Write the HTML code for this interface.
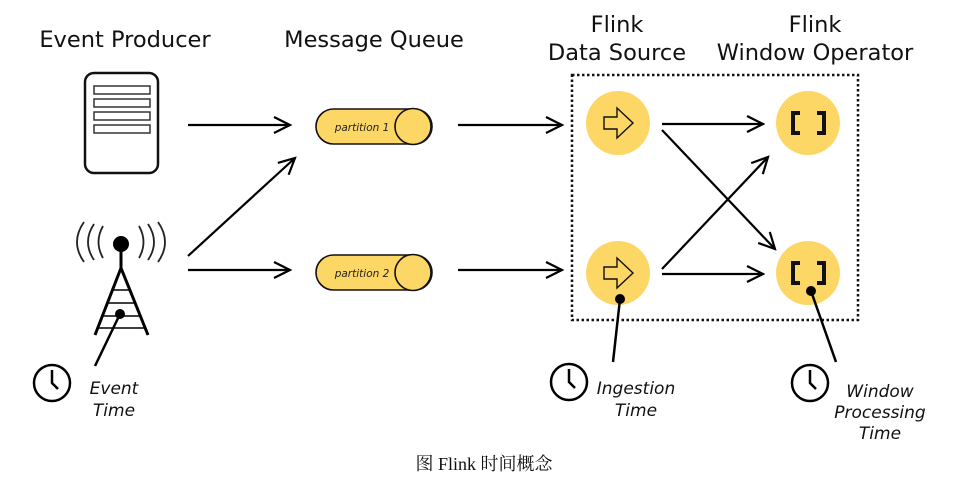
<!DOCTYPE html>
<html><head><meta charset="utf-8"><style>
body{margin:0;background:#fff;width:968px;height:489px;overflow:hidden}
svg{display:block}
.t{font-family:"DejaVu Sans","Liberation Sans",sans-serif;font-size:22.5px;fill:#111}
.i{font-family:"DejaVu Sans","Liberation Sans",sans-serif;font-size:17px;font-style:italic;fill:#111}
</style></head><body>
<svg width="968" height="489" viewBox="0 0 968 489">
<defs>
<marker id="a" viewBox="0 0 20 20" refX="18" refY="10" markerWidth="20" markerHeight="20" markerUnits="userSpaceOnUse" orient="auto">
<path d="M2 2 L18 10 L2 18" fill="none" stroke="#000" stroke-width="2.2"/>
</marker>
</defs>
<text class="t" x="125" y="47" text-anchor="middle">Event Producer</text>
<text class="t" x="374" y="47" text-anchor="middle">Message Queue</text>
<text class="t" x="617" y="32" text-anchor="middle">Flink</text>
<text class="t" x="617" y="60" text-anchor="middle">Data Source</text>
<text class="t" x="815" y="32" text-anchor="middle">Flink</text>
<text class="t" x="815" y="60" text-anchor="middle">Window Operator</text>

<rect x="85" y="73" width="73" height="100" rx="9" fill="#fff" stroke="#111" stroke-width="2.5"/>
<g fill="#fff" stroke="#333" stroke-width="1.5">
<rect x="94" y="86" width="56" height="8"/><rect x="94" y="99" width="56" height="8"/>
<rect x="94" y="112" width="56" height="8"/><rect x="94" y="125" width="56" height="8"/>
</g>
<g fill="none" stroke="#222" stroke-width="1.8">
<path d="M84 222 Q70 242 84 262"/><path d="M94 224 Q82 242 94 260"/><path d="M103 226 Q94 242 103 258"/>
<path d="M158 222 Q172 242 158 262"/><path d="M148 224 Q160 242 148 260"/><path d="M139 226 Q148 242 139 258"/>
</g>
<circle cx="121" cy="244" r="8" fill="#000"/>
<g stroke="#000" stroke-width="3" fill="none">
<line x1="121" y1="244" x2="121" y2="270"/>
<line x1="121" y1="268" x2="95" y2="335"/><line x1="121" y1="268" x2="148" y2="335"/>
</g>
<g stroke="#000" stroke-width="1.5">
<line x1="111" y1="290" x2="131" y2="290"/><line x1="106" y1="303" x2="136" y2="303"/>
<line x1="102" y1="316" x2="140" y2="316"/><line x1="98" y1="328" x2="144" y2="328"/>
</g>
<circle cx="120" cy="314" r="5" fill="#000"/>
<line x1="120" y1="314" x2="95" y2="366" stroke="#000" stroke-width="2.5"/>

<g stroke="#000" stroke-width="2.2" marker-end="url(#a)">
<line x1="188" y1="125" x2="290" y2="125"/>
<line x1="188" y1="256" x2="295" y2="158"/>
<line x1="188" y1="270" x2="290" y2="270"/>
<line x1="458" y1="125" x2="562" y2="125"/>
<line x1="458" y1="270" x2="562" y2="270"/>
<line x1="662" y1="124" x2="763" y2="124"/>
<line x1="662" y1="130" x2="775" y2="249"/>
<line x1="662" y1="269" x2="768" y2="157"/>
<line x1="662" y1="274" x2="763" y2="274"/>
</g>

<g stroke="#111" stroke-width="1.6" fill="#fdd766">
<rect x="316" y="109" width="116" height="35" rx="17.5"/>
<circle cx="413" cy="126.5" r="18"/>
<rect x="316" y="255" width="116" height="35" rx="17.5"/>
<circle cx="413" cy="272.5" r="18"/>
</g>
<text x="362" y="131" text-anchor="middle" style="font-family:'DejaVu Sans',sans-serif;font-size:10.5px;font-style:italic" fill="#222">partition 1</text>
<text x="362" y="277" text-anchor="middle" style="font-family:'DejaVu Sans',sans-serif;font-size:10.5px;font-style:italic" fill="#222">partition 2</text>

<rect x="572" y="75" width="286" height="245" fill="none" stroke="#111" stroke-width="2.5" stroke-dasharray="2.5 2.5"/>

<g fill="#fdd766">
<circle cx="618" cy="123" r="32"/><circle cx="618" cy="273" r="32"/>
<circle cx="808" cy="123" r="32"/><circle cx="808" cy="273" r="32"/>
</g>
<g fill="none" stroke="#111" stroke-width="1.4">
<path d="M604 117 h13 v-9 l16 15 l-16 15 v-9 h-13 z"/>
<path d="M604 267 h13 v-9 l16 15 l-16 15 v-9 h-13 z"/>
</g>
<g fill="none" stroke="#111" stroke-width="4">
<path d="M800 113 h-7 v20 h7"/><path d="M817 113 h7 v20 h-7"/>
<path d="M800 263 h-7 v20 h7"/><path d="M817 263 h7 v20 h-7"/>
</g>
<circle cx="620" cy="299" r="5" fill="#000"/>
<line x1="620" y1="299" x2="613" y2="362" stroke="#000" stroke-width="2.5"/>
<circle cx="811" cy="291" r="5" fill="#000"/>
<line x1="811" y1="291" x2="836" y2="362" stroke="#000" stroke-width="2.5"/>

<g fill="none" stroke="#000" stroke-width="2.5">
<circle cx="52" cy="383" r="18"/><path d="M52 370 v13 l6 6"/>
<circle cx="569" cy="382" r="18"/><path d="M569 369 v13 l6 6"/>
<circle cx="810" cy="383" r="18"/><path d="M810 370 v13 l6 6"/>
</g>
<text class="i" x="114" y="394" text-anchor="middle">Event</text>
<text class="i" x="114" y="416" text-anchor="middle">Time</text>
<text class="i" x="636" y="394" text-anchor="middle">Ingestion</text>
<text class="i" x="636" y="416" text-anchor="middle">Time</text>
<text class="i" x="880" y="397" text-anchor="middle">Window</text>
<text class="i" x="880" y="418" text-anchor="middle">Processing</text>
<text class="i" x="880" y="439" text-anchor="middle">Time</text>

<text x="484" y="470" text-anchor="middle" style="font-family:'Liberation Serif','Noto Serif CJK SC',serif;font-size:18px" fill="#111">图  Flink 时间概念</text>
</svg>
</body></html>
